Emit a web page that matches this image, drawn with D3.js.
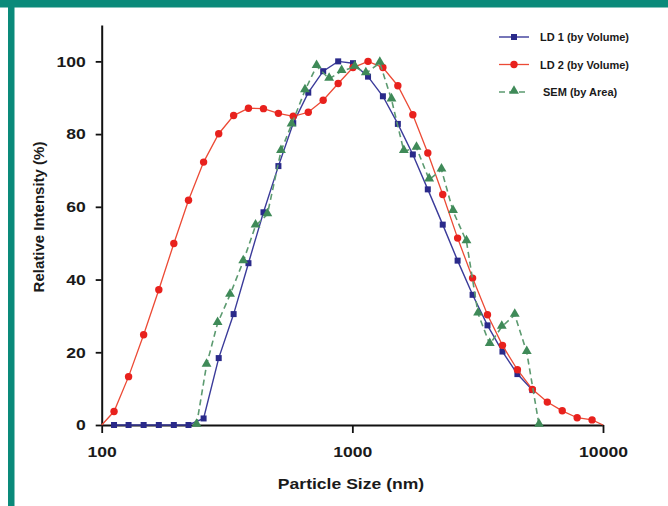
<!DOCTYPE html>
<html>
<head>
<meta charset="utf-8">
<script src="https://cdn.jsdelivr.net/npm/d3@7/dist/d3.min.js"></script>
<style>
  html, body { margin: 0; padding: 0; background: #ffffff; }
  svg { display: block; }
  text { font-family: Arial, "Liberation Sans", Helvetica, sans-serif; fill: #1a1a1a; }
</style>
</head>
<body>
<svg id="chart" width="668" height="506"></svg>
<script>
// ---- data ----
const xTicks = [100, 1000, 10000];
const yTicks = [0, 20, 40, 60, 80, 100];

const ld1Size = [112,128,147,169,194,222,255,293,336,385,442,507,581,667,765,878,1006,1155,1324,1519,1743,2000,2294,2630,3018,3461,3971,4555,5226];
const ld1Val  = [0,0,0,0,0,0,1.8,18.4,30.5,44.5,58.5,71.2,83,91.4,97.3,100,99.5,95.8,90.4,82.8,74.4,64.8,55.1,45.2,35.8,27.4,20.2,14.0,9.6];

const ld2Size = [100,112,128,147,169,194,222,255,293,336,385,442,507,581,667,765,878,1006,1155,1324,1519,1743,2000,2294,2630,3018,3461,3971,4555,5226,5995,6877,7886,9045,10000];
const ld2Val  = [0,3.7,13.3,24.8,37.2,49.9,61.8,72.3,80.1,85.1,87.1,87.0,85.7,84.9,86.0,89.3,93.9,98.3,100,98.3,93.3,85.3,74.8,63.4,51.4,40.4,30.3,21.9,15.2,9.8,6.3,3.9,2.0,1.4,0];

const semSize = [239,262,290,325,367,411,458,519,572,647,720,808,906,1023,1132,1287,1433,1605,1803,2025,2268,2522,2853,3174,3533,3946,4446,4964,5557];
const semVal  = [0,16.5,28.0,35.8,45.0,54.8,57.9,75.3,82.6,92.0,98.7,95.2,97.3,98.5,96.7,99.6,89.5,75.3,76.2,67.5,70.2,58.8,50.5,30.6,22.2,27.0,30.3,20.0,0];

const seriesNames = ["LD 1 (by Volume)", "LD 2 (by Volume)", "SEM (by Area)"];

// ---- chart ----
const svg = d3.select("#chart");
const STRETCH = 1.17;

// teal frame
svg.append("rect").attr("x", 0).attr("y", 0).attr("width", 668).attr("height", 7.5).attr("fill", "#0a8a7a");
svg.append("rect").attr("x", 8).attr("y", 0).attr("width", 6.5).attr("height", 506).attr("fill", "#0a8a7a");

const x = d3.scaleLog().domain([100, 10000]).range([101.7, 603]);
const y = d3.scaleLinear().domain([0, 110]).range([425, 25]);

function stretchText(sel, k) {
  sel.each(function() {
    const len = this.getComputedTextLength();
    d3.select(this).attr("textLength", len * k).attr("lengthAdjust", "spacingAndGlyphs");
  });
}

// axes
const yAxis = svg.append("g").attr("transform", "translate(101.7,0)")
  .call(d3.axisLeft(y).tickValues(yTicks).tickSize(6).tickPadding(10).tickSizeOuter(0));
const xAxis = svg.append("g").attr("transform", "translate(0,425)")
  .call(d3.axisBottom(x).tickValues(xTicks).tickFormat(d3.format("d")).tickSize(8).tickPadding(13).tickSizeOuter(0));

[yAxis, xAxis].forEach(g => {
  g.select(".domain").attr("stroke", "#111").attr("stroke-width", 2);
  g.selectAll(".tick line").attr("stroke", "#111").attr("stroke-width", 1.8);
  g.selectAll(".tick text").attr("fill", "#1a1a1a").style("font-size", "15px").style("font-weight", "bold")
    .style("font-family", "Arial, 'Liberation Sans', sans-serif");
});
stretchText(yAxis.selectAll(".tick text"), STRETCH);
stretchText(xAxis.selectAll(".tick text"), STRETCH);

// axis titles
svg.append("text").attr("x", 351).attr("y", 489).attr("text-anchor", "middle")
  .style("font-size", "15px").style("font-weight", "bold").text("Particle Size (nm)")
  .call(s => stretchText(s, STRETCH));
svg.append("text").attr("transform", "translate(44,217) rotate(-90)").attr("text-anchor", "middle")
  .style("font-size", "15px").style("font-weight", "bold").text("Relative Intensity (%)");

// series
const blueLine = "#3b3b9a", blueMark = "#2a2a8a";
const redLine = "#ec4a35", redMark = "#e8211d";
const greenLine = "#5c9a70", greenMark = "#3f8a58";

const line = d3.line().x(d => x(d[0])).y(d => y(d[1]));

const ld1 = ld1Size.map((s, i) => [s, ld1Val[i]]);
const ld2 = ld2Size.map((s, i) => [s, ld2Val[i]]);
const sem = semSize.map((s, i) => [s, semVal[i]]);

// LD1
svg.append("path").datum(ld1).attr("d", line).attr("fill", "none").attr("stroke", blueLine).attr("stroke-width", 1.4);
svg.append("g").selectAll("rect").data(ld1).join("rect")
  .attr("x", d => x(d[0]) - 3).attr("y", d => y(d[1]) - 3).attr("width", 6).attr("height", 6).attr("fill", blueMark);

// LD2
svg.append("path").datum(ld2).attr("d", line).attr("fill", "none").attr("stroke", redLine).attr("stroke-width", 1.3);
svg.append("g").selectAll("circle").data(ld2.slice(1, ld2.length - 1)).join("circle")
  .attr("cx", d => x(d[0])).attr("cy", d => y(d[1])).attr("r", 3.7).attr("fill", redMark);

// SEM
const tri = d3.symbol().type(d3.symbolTriangle).size(42);
svg.append("path").datum(sem).attr("d", line).attr("fill", "none").attr("stroke", greenLine)
  .attr("stroke-width", 1.6).attr("stroke-dasharray", "6,4");
svg.append("g").selectAll("path").data(sem).join("path")
  .attr("d", tri).attr("transform", d => `translate(${x(d[0])},${y(d[1]) - 1})`).attr("fill", greenMark);

// legend
const legY = [37, 64.5, 92];
const lg = svg.append("g");
// LD1
lg.append("line").attr("x1", 499).attr("x2", 529).attr("y1", legY[0]).attr("y2", legY[0]).attr("stroke", blueLine).attr("stroke-width", 1.4);
lg.append("rect").attr("x", 511).attr("y", legY[0] - 3).attr("width", 6).attr("height", 6).attr("fill", blueMark);
// LD2
lg.append("line").attr("x1", 499).attr("x2", 529).attr("y1", legY[1]).attr("y2", legY[1]).attr("stroke", redLine).attr("stroke-width", 1.3);
lg.append("circle").attr("cx", 514).attr("cy", legY[1]).attr("r", 3.7).attr("fill", redMark);
// SEM
lg.append("line").attr("x1", 499).attr("x2", 529).attr("y1", legY[2]).attr("y2", legY[2]).attr("stroke", greenLine)
  .attr("stroke-width", 1.6).attr("stroke-dasharray", "6,4");
lg.append("path").attr("d", tri).attr("transform", `translate(514,${legY[2] - 1})`).attr("fill", greenMark);

const legX = [540, 540, 543];
seriesNames.forEach((n, i) => {
  lg.append("text").attr("x", legX[i]).attr("y", legY[i] + 4).style("font-size", "11px").style("font-weight", "bold").text(n);
});
</script>
</body>
</html>
